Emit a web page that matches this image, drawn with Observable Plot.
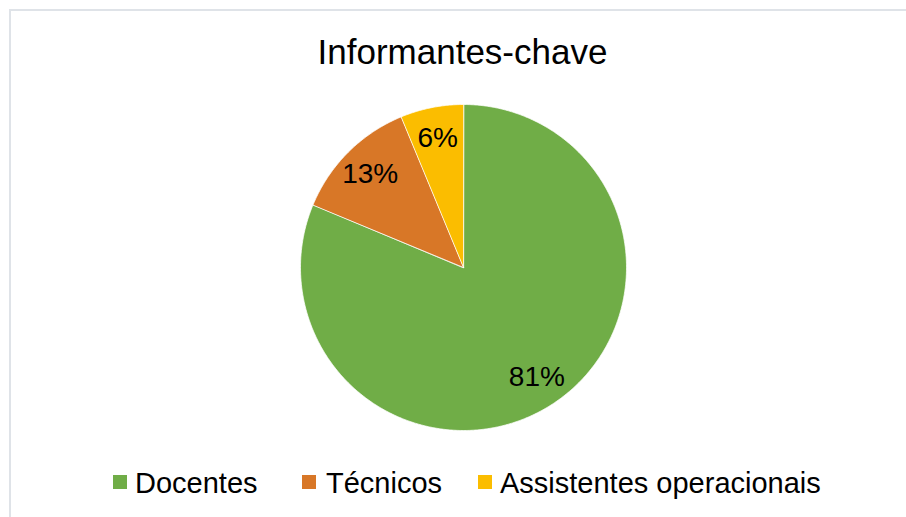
<!DOCTYPE html>
<html><head><meta charset="utf-8">
<script src="https://cdn.jsdelivr.net/npm/d3@7"></script>
<script src="https://cdn.jsdelivr.net/npm/@observablehq/plot@0.6"></script>
<style>
body{margin:0;background:#fff;font-family:"Liberation Sans",Arial,sans-serif;}
#wrap{position:relative;width:906px;height:517px;overflow:hidden;background:#fff;}
#frame{position:absolute;left:9px;top:9px;width:1000px;height:1000px;border-left:2px solid #dfe3e8;border-top:2px solid #dfe3e8;}
#title{position:absolute;left:0;width:925px;top:34px;text-align:center;font-size:35px;line-height:35px;color:#000;white-space:nowrap;}
#chart{position:absolute;left:0;top:0;}
.lg{position:absolute;top:469px;font-size:29px;line-height:29px;color:#000;white-space:nowrap;}
.sw{position:absolute;top:475px;width:14px;height:14px;}
</style></head>
<body>
<div id="wrap"><div id="frame"></div><div id="chart"></div><div id="title"></div><div id="legend"></div></div>
<script>
const title = "Informantes-chave";
const categories = ["Docentes", "Técnicos", "Assistentes operacionais"];
const counts = [26, 4, 2];
const labels = ["81%", "13%", "6%"];
const colors = ["#70AD47", "#D87727", "#FBBD00"];

document.getElementById("title").textContent = title;

const total = d3.sum(counts);
let acc = 0;
const slices = categories.map((c, i) => {
  const a0 = acc / total * 2 * Math.PI; acc += counts[i];
  const a1 = acc / total * 2 * Math.PI;
  return {category: c, label: labels[i], a0, a1, mid: (a0 + a1) / 2};
});
function ring(a0, a1) {
  const n = Math.max(2, Math.ceil((a1 - a0) / (Math.PI / 360)));
  const pts = [[0, 0]];
  for (let k = 0; k <= n; k++) { const a = a0 + (a1 - a0) * k / n; pts.push([Math.sin(a), Math.cos(a)]); }
  pts.push([0, 0]);
  return pts;
}
const features = slices.map(s => ({type: "Feature", properties: s, geometry: {type: "Polygon", coordinates: [ring(s.a0, s.a1)]}}));
const disk = {type: "Polygon", coordinates: [ring(0, 2 * Math.PI)]};
const labelR = 0.81;

const plot = Plot.plot({
  width: 906, height: 517,
  marginLeft: 300, marginRight: 280, marginTop: 104, marginBottom: 87,
  style: {fontFamily: "Liberation Sans, Arial, sans-serif", background: "transparent"},
  projection: {type: "reflect-y", domain: disk},
  color: {domain: categories, range: colors},
  marks: [
    Plot.geo(features, {fill: d => d.properties.category, stroke: "white", strokeWidth: 0.75}),
    Plot.text(slices, {x: d => labelR * Math.sin(d.mid), y: d => labelR * Math.cos(d.mid), text: "label",
      fontSize: 28, fill: "black", fontFamily: "Liberation Sans, Arial, sans-serif"})
  ]
});
document.getElementById("chart").appendChild(plot);

const color = plot.scale("color");
const swX = [113, 302, 478], txX = [135, 326, 500];
const lg = document.getElementById("legend");
categories.forEach((c, i) => {
  const s = document.createElement("div"); s.className = "sw"; s.style.left = swX[i] + "px";
  s.style.background = color.range[color.domain.indexOf(c)]; lg.appendChild(s);
  const t = document.createElement("div"); t.className = "lg"; t.style.left = txX[i] + "px"; t.textContent = c; lg.appendChild(t);
});
</script>
</body></html>
